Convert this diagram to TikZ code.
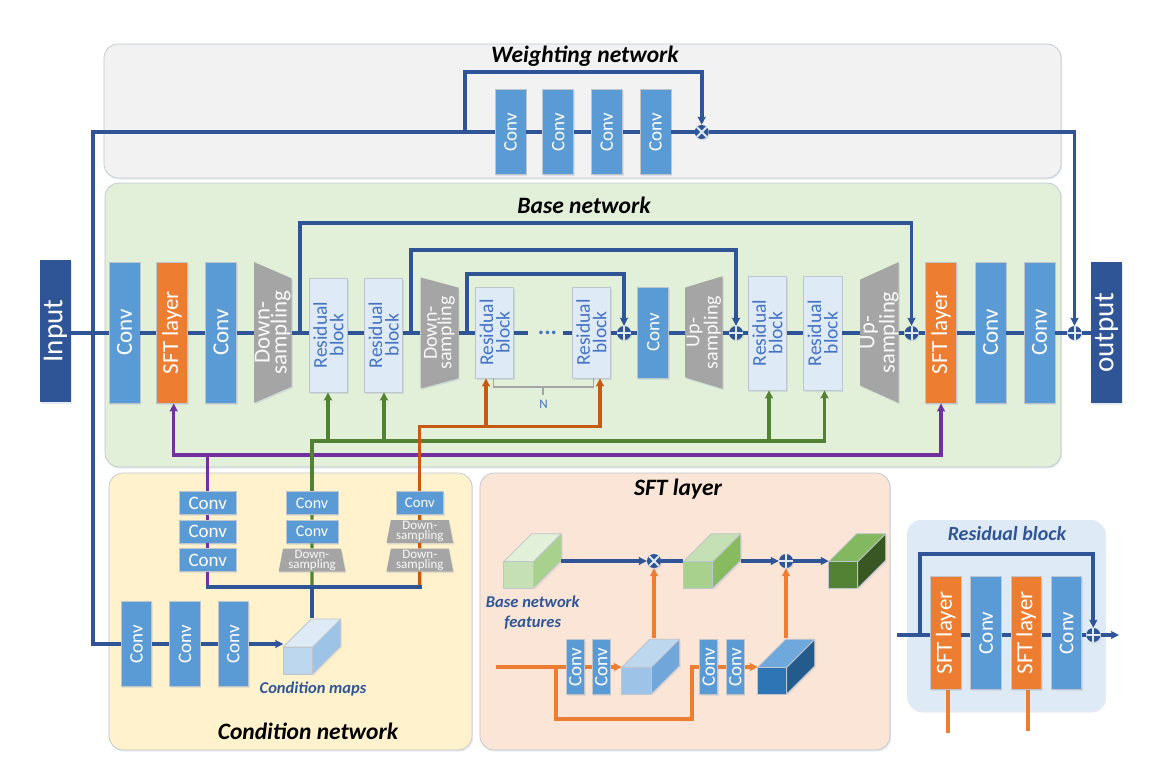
\documentclass[tikz,border=0pt]{standalone}
\usepackage{fontspec}
\setmainfont{Carlito}
\usetikzlibrary{arrows.meta,shadows,shapes.geometric}
\definecolor{navy}{HTML}{2F5597}
\definecolor{convblue}{HTML}{5B9BD5}
\definecolor{sftorange}{HTML}{ED7D31}
\definecolor{darkorange}{HTML}{C55A11}
\definecolor{resfill}{HTML}{DEEBF7}
\definecolor{restext}{HTML}{4472C4}
\definecolor{edgegray}{HTML}{BFC5CC}
\definecolor{downgray}{HTML}{A5A5A5}
\definecolor{leafgreen}{HTML}{548235}
\definecolor{royalpurple}{HTML}{7030A0}
\definecolor{panelgray}{HTML}{F2F2F2}
\definecolor{panelgreen}{HTML}{E2F0D9}
\definecolor{panelyellow}{HTML}{FFF2CC}
\definecolor{panelpeach}{HTML}{FBE5D6}
\tikzset{
softshade/.style={general shadow={fill=navy!55,opacity=.22,shadow xshift=1.2pt,shadow yshift=-1.5pt}},
panel/.style={draw=edgegray,fill=#1,rounded corners=14pt,line width=.7pt,softshade},
boxbase/.style={draw=edgegray,line width=.8pt,inner sep=0pt,rotate=90,align=center,softshade},
convbox/.style={boxbase,fill=convblue,text=white},
sftbox/.style={boxbase,fill=sftorange,text=white},
resbox/.style={boxbase,fill=resfill,text=restext},
flatconv/.style={draw=edgegray,line width=.8pt,fill=convblue,text=white,inner sep=0pt,softshade},
samplebox/.style={trapezium,trapezium stretches=true,fill=downgray,text=white!95!gray,inner sep=0pt,align=center,softshade},
endbox/.style={fill=navy,text=white,inner sep=0pt,rotate=90,softshade},
cubeface/.style={draw=edgegray,line width=.8pt,line join=round},
title/.style={font=\fontsize{23.5}{24}\selectfont\bfseries\itshape},
subtitle/.style={text=navy,align=center,font=\fontsize{16.5}{20}\selectfont\bfseries\itshape},
joiner/.style={circle,fill=navy,minimum size=14pt,inner sep=0pt,rotate=90,softshade},
plusjoin/.style={joiner,path picture={
\draw[resfill,line width=2pt] (path picture bounding box.north)--(path picture bounding box.south)
(path picture bounding box.east)--(path picture bounding box.west);}},
timesjoin/.style={joiner,path picture={
\draw[resfill,line width=2pt] (path picture bounding box.north east)--(path picture bounding box.south west)
(path picture bounding box.north west)--(path picture bounding box.south east);}},
blueline/.style={draw=navy,line width=3.7pt},
purpleline/.style={draw=royalpurple,line width=3.2pt},
greenline/.style={draw=leafgreen,line width=3.2pt},
rustline/.style={draw=darkorange,line width=3.2pt},
orangeline/.style={draw=sftorange,line width=3.2pt},
}
\begin{document}
\begin{tikzpicture}[x=1pt,y=-1pt,>={Stealth[length=8pt,width=8pt,inset=1pt]},line join=miter]
\useasboundingbox (0,0) rectangle (1156,774);
% panels
\path[panel=panelgray] (104,44) rectangle (1061,178);
\path[panel=panelgreen] (105,183) rectangle (1061,467);
\path[panel=panelyellow] (109,473) rectangle (472,750);
\path[panel=panelpeach] (480,473) rectangle (890,750);
\path[fill=resfill,rounded corners=14pt,softshade] (907,520) rectangle (1105,711);
\node[title] (tWeight) at (585,56) {Weighting network};
\node[title] (tBase) at (584,205) {Base network};
\node[title] (tCond) at (308,731) {Condition network};
\node[title] (tSft) at (678,489) {SFT layer};
\node[subtitle,font=\fontsize{20}{20}\selectfont\bfseries\itshape] (tRes) at (1007,534) {Residual block};
% base network
\node[endbox,minimum width=142pt,minimum height=31pt,font=\fontsize{29}{30}\selectfont] (Input) at (55.5,331) {Input};
\node[endbox,minimum width=141pt,minimum height=31pt,font=\fontsize{29}{30}\selectfont] (Output) at (1106.5,332.5) {output};
\foreach \n/\xc in {ConvA/124.5,ConvB/221,ConvC/990.5,ConvD/1039.5}
\node[convbox,minimum width=141pt,minimum height=31pt,font=\fontsize{23}{24}\selectfont] (\n) at (\xc,332.5) {Conv};
\foreach \n/\xc in {SftA/172,SftB/941}
\node[sftbox,minimum width=141pt,minimum height=31pt,font=\fontsize{23}{24}\selectfont] (\n) at (\xc,332.5) {SFT layer};
\foreach \n/\xc/\yc/\ww/\hh in {ResA/328.5/335/114/38,ResB/383.7/335/114/38,ResC/494.7/332.5/91/38,ResD/591.5/332.5/91/38,ResE/767.3/333/114/38.5,ResF/822.7/333/114/38.5}
\node[resbox,minimum width=\ww pt,minimum height=\hh pt,font=\fontsize{19.5}{16.5}\selectfont] (\n) at (\xc,\yc) {Residual\\block};
\node[convbox,minimum width=91pt,minimum height=31pt,font=\fontsize{19}{20}\selectfont] (ConvM) at (653.3,332.5) {Conv};
\node[samplebox,rotate=90,shape border rotate=180,trapezium left angle=70.6,trapezium right angle=70.6,minimum width=141pt,minimum height=37.5pt,font=\fontsize{23}{17}\selectfont] (DownA) at (272.8,332.5) {Down-\\sampling};
\node[samplebox,rotate=90,shape border rotate=180,trapezium left angle=75,trapezium right angle=75,minimum width=112pt,minimum height=38pt,font=\fontsize{20}{14.5}\selectfont] (DownB) at (439.5,333) {Down-\\sampling};
\node[samplebox,rotate=90,trapezium left angle=75,trapezium right angle=75,minimum width=113pt,minimum height=37.5pt,font=\fontsize{20}{14.5}\selectfont] (UpA) at (703.8,332.5) {Up-\\sampling};
\node[samplebox,rotate=90,trapezium left angle=70.6,trapezium right angle=70.6,minimum width=141pt,minimum height=37.5pt,font=\fontsize{22.5}{17}\selectfont] (UpB) at (879.3,332.5) {Up-\\sampling};
\foreach \n/\xc in {PlusA/624,PlusB/736,PlusC/911.5,PlusD/1074.5}
\node[plusjoin] (\n) at (\xc,333) {};
\coordinate (DotsL) at (528,333);
\coordinate (DotsR) at (563,333);
\node[text=restext,font=\fontsize{24}{24}\selectfont\bfseries] (Dots) at (547.5,333) {...};
\coordinate (BraceL) at (493.7,378);
\coordinate (BraceR) at (593.6,378);
\coordinate (BraceM) at (543,387);
\coordinate (BraceT) at (543,395);
\node[text=restext,font=\fontsize{13}{14}\selectfont] (Ntag) at (543.5,404) {N};
% weighting network
\foreach \n/\xc in {WeightA/510.5,WeightB/558.3,WeightC/606.8,WeightD/655.4}
\node[convbox,minimum width=85pt,minimum height=31pt,font=\fontsize{19}{20}\selectfont] (\n) at (\xc,132) {Conv};
\node[timesjoin] (TimesW) at (701.7,132) {};
% condition network
\foreach \n/\xc/\yc in {CondA/207.7/503.2,CondB/207.7/531.5,CondC/207.7/560}
\node[flatconv,minimum width=57pt,minimum height=23pt,font=\fontsize{19}{20}\selectfont] (\n) at (\xc,\yc) {Conv};
\foreach \n/\yc in {CondD/503.2,CondE/531.5}
\node[flatconv,minimum width=52pt,minimum height=23pt,font=\fontsize{16}{18}\selectfont] (\n) at (312,\yc) {Conv};
\node[flatconv,minimum width=47.7pt,minimum height=23pt,font=\fontsize{14.7}{16}\selectfont] (CondG) at (419.8,503.2) {Conv};
\foreach \n/\xc/\yc in {SampA/312/560,SampB/419.8/531.5,SampC/419.8/560}
\node[samplebox,trapezium left angle=80,trapezium right angle=80,minimum width=67pt,minimum height=23pt,font=\fontsize{13}{9}\selectfont] (\n) at (\xc,\yc) {Down-\\sampling};
\foreach \n/\xc in {LowA/136.5,LowB/185,LowC/233.3}
\node[convbox,minimum width=85pt,minimum height=30.5pt,font=\fontsize{19}{20}\selectfont] (\n) at (\xc,644) {Conv};
% cubes
\foreach \n/\xa/\ya/\xb/\yb/\cf/\ct/\cs in {
CubeCond/283.3/647/312.7/674/BDD7EE/DEEBF7/9DC3E6,
CubeBase/503.7/561.7/533.3/588.3/C5E0B4/E2F0D9/A9D18E,
CubeMul/683.3/561.7/712.7/588.3/A9D18E/C5E0B4/88BB60,
CubeOut/828.7/561.7/857.7/588.3/548235/84B860/385723,
CubeGamma/621.7/667.3/651.3/694/9DC3E6/BDD7EE/70A6DA,
CubeBeta/757.7/667.3/786.7/694/2E75B6/6FA8DC/235B8C}{
\definecolor{cf}{HTML}{\cf}\definecolor{ct}{HTML}{\ct}\definecolor{cs}{HTML}{\cs}
\draw[cubeface,fill=cs,general shadow={fill=navy!55,opacity=.15,shadow xshift=1.5pt,shadow yshift=-1.5pt}] (\xb,\ya)--(\xb+28,\ya-28)--(\xb+28,\yb-28)--(\xb,\yb)--cycle;
\draw[cubeface,fill=ct] (\xa,\ya)--(\xa+28,\ya-28)--(\xb+28,\ya-28)--(\xb,\ya)--cycle;
\draw[cubeface,fill=cf] (\xa,\ya) rectangle (\xb,\yb);
\coordinate (\n L) at (\xa,\ya);
\coordinate (\n R) at (\xb+28,\ya);
\coordinate (\n T) at (\xa+29,\ya-29);
}
\node[subtitle] (tMaps) at (313,689) {Condition maps};
\node[subtitle] (tFeat) at (532.7,613) {Base network\\features};
% sft layer
\node[timesjoin] (TimesS) at (654,561) {};
\node[plusjoin] (PlusS) at (786,561) {};
\foreach \n/\xc in {GamA/575.3,GamB/601.2,BetA/708.7,BetB/735.2}
\node[convbox,minimum width=55pt,minimum height=18pt,font=\fontsize{19}{20}\selectfont] (\n) at (\xc,667) {Conv};
% residual block
\foreach \n/\xc in {RbSftA/945.8,RbSftB/1026.2}
\node[sftbox,minimum width=112.6pt,minimum height=30.3pt,font=\fontsize{23}{24}\selectfont] (\n) at (\xc,633) {SFT layer};
\foreach \n/\xc in {RbConvA/986,RbConvB/1066.5}
\node[convbox,minimum width=112.6pt,minimum height=30.3pt,font=\fontsize{21}{22}\selectfont] (\n) at (\xc,633) {Conv};
\node[plusjoin] (PlusR) at (1093.3,635) {};
% free ends of connectors
\path
(93,132) coordinate (InTop)
(93,333) coordinate (InMid)
(93,644) coordinate (InLow)
(465,132) coordinate (SkipW)
(465,72) coordinate (SkipWT)
(1074.5,132) coordinate (SkipWR)
(300,333) coordinate (SkipA)
(300,223) coordinate (SkipAT)
(411,333) coordinate (SkipB)
(411,250) coordinate (SkipBT)
(467,333) coordinate (SkipC)
(467,274) coordinate (SkipCT)
(173.7,455) coordinate (PurL)
(941,455) coordinate (PurR)
(207.7,455) coordinate (PurC)
(206,586.7) coordinate (BusL)
(421.6,586.7) coordinate (BusR)
(312,586.7) coordinate (BusM)
(312,618) coordinate (BusD)
(312,441) coordinate (GrnL)
(824.5,441) coordinate (GrnR)
(419.8,426.7) coordinate (RustL)
(600,426.7) coordinate (RustR)
(486,426.7) coordinate (RustA)
(496,667) coordinate (SftIn)
(556,667) coordinate (SftSplit)
(556,719) coordinate (SftLowL)
(692,719) coordinate (SftLowR)
(692,667) coordinate (SftUp)
(897.3,635) coordinate (RbIn)
(919.7,635) coordinate (RbSplit)
(919.7,554) coordinate (RbTopL)
(1093.3,554) coordinate (RbTopR)
(1119,635) coordinate (RbOut)
(948,732.7) coordinate (RbStemA)
(1028,730.7) coordinate (RbStemB);
% connectors
\foreach \a/\b in {Input/ConvA,ConvA/SftA,SftA/ConvB,ConvB/DownA,DownA/ResA,ResA/ResB,ResB/DownB,DownB/ResC,ResD/PlusA,PlusA/ConvM,ConvM/UpA,UpA/PlusB,PlusB/ResE,ResE/ResF,ResF/UpB,UpB/PlusC,PlusC/SftB,SftB/ConvC,ConvC/ConvD,ConvD/PlusD,PlusD/Output}
\draw[blueline] (\a.south|-InMid)--(\b.north|-InMid);
\draw[blueline] (ResC.south|-InMid)--(DotsL) (DotsR)--(ResD.north|-InMid);
\foreach \a/\b in {WeightA/WeightB,WeightB/WeightC,WeightC/WeightD,WeightD/TimesW,LowA/LowB,LowB/LowC}
\draw[blueline] (\a)--(\b);
\draw[blueline] (WeightA)--(InTop)--(InLow)--(LowA);
\draw[blueline,->] (SkipW)--(SkipWT)-|(TimesW);
\draw[blueline,->] (TimesW)--(SkipWR)--(PlusD);
\draw[blueline,->] (SkipA)--(SkipAT)-|(PlusC);
\draw[blueline,->] (SkipB)--(SkipBT)-|(PlusB);
\draw[blueline,->] (SkipC)--(SkipCT)-|(PlusA);
\draw[draw=downgray,line width=1.1pt] (BraceL)|-(BraceM) (BraceR)|-(BraceM) (BraceM)--(BraceT);
\draw[purpleline,<->] (PurL|-SftA.west)--(PurL)--(PurR)--(PurR|-SftB.west);
\draw[purpleline] (PurC)--(CondA) (CondA)--(CondB) (CondB)--(CondC) (CondC)--(CondC|-BusL);
\draw[greenline,->] (CondD)--(GrnL)--(GrnR)--(GrnR|-ResF.west);
\draw[greenline] (CondD)--(CondE) (CondE)--(SampA) (SampA)--(BusM);
\foreach \t/\xx in {ResA/328,ResB/384,ResE/769}
\draw[greenline,->] (\xx,441)--(\xx,441|-\t.west);
\draw[rustline,->] (CondG)--(RustL)--(RustR)--(RustR|-ResD.west);
\draw[rustline] (CondG)--(SampB) (SampB)--(SampC) (SampC)--(SampC|-BusR);
\draw[rustline,->] (RustA)--(RustA|-ResC.west);
\draw[blueline] (BusL)--(BusR);
\draw[blueline] (BusM)--(BusD);
\draw[blueline,->] (LowC)--(CubeCondL|-LowC);
\draw[blueline,->] (CubeBaseR|-TimesS)--(TimesS);
\draw[blueline] (TimesS)--(CubeMulL|-TimesS);
\draw[blueline,->] (CubeMulR|-PlusS)--(PlusS);
\draw[blueline,->] (PlusS)--(CubeOutL|-PlusS);
\draw[orangeline] (SftIn)--(GamA) (GamA)--(GamB) (BetA)--(BetB);
\draw[orangeline] (SftSplit)--(SftLowL)--(SftLowR)--(SftUp)--(BetA);
\draw[orangeline,->] (GamB)--(CubeGammaL|-GamB);
\draw[orangeline,->] (BetB)--(CubeBetaL|-BetB);
\draw[orangeline,->] (TimesS|-CubeGammaT)--(TimesS);
\draw[orangeline,->] (PlusS|-CubeBetaT)--(PlusS);
\draw[blueline] (RbIn)--(RbSftA.north|-RbIn);
\foreach \a/\b in {RbSftA/RbConvA,RbConvA/RbSftB,RbSftB/RbConvB}
\draw[blueline] (\a.south|-RbIn)--(\b.north|-RbIn);
\draw[blueline] (RbConvB.south|-RbIn)--(PlusR);
\draw[blueline,->] (RbSplit)--(RbTopL)--(RbTopR)--(PlusR);
\draw[blueline,->] (PlusR)--(RbOut);
\draw[orangeline] (RbStemA|-RbSftA.west)--(RbStemA) (RbStemB|-RbSftB.west)--(RbStemB);
\end{tikzpicture}
\end{document}
